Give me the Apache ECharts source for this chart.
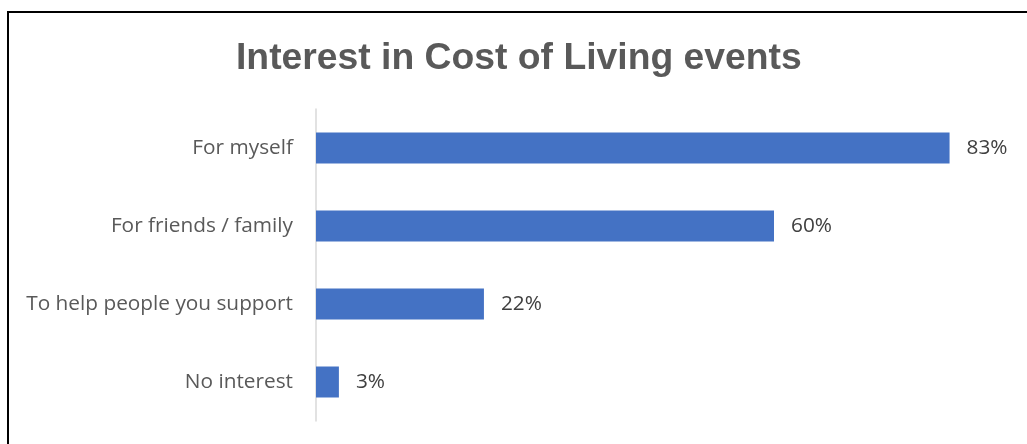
<!DOCTYPE html>
<html>
<head>
<meta charset="utf-8">
<script src="https://cdn.jsdelivr.net/npm/echarts@6/dist/echarts.min.js"></script>
<style>
  html, body { margin: 0; padding: 0; background: #ffffff; }
  #chart { width: 1027px; height: 444px; }
</style>
</head>
<body>
<div id="chart"></div>
<script>
// Survey answers, top to bottom
const categories = ['For myself', 'For friends / family', 'To help people you support', 'No interest'];
// Share of respondents (%)
const shares = [83, 60, 22, 3];

const chart = echarts.init(document.getElementById('chart'), null, { renderer: 'canvas' });

const labelFont = 'Open Sans, Noto Sans, sans-serif';

chart.setOption({
  backgroundColor: '#ffffff',
  animation: false,
  title: {
    text: 'Interest in Cost of Living events',
    left: 231,
    top: 35,
    textStyle: {
      fontFamily: 'Liberation Sans, Arial, sans-serif',
      fontSize: 37.3,
      fontWeight: 'bold',
      color: '#595959'
    }
  },
  graphic: [{
    type: 'rect',
    shape: { x: 8, y: 12, width: 1040, height: 450 },
    style: { fill: 'none', stroke: '#000000', lineWidth: 2 },
    silent: true
  }],
  grid: { left: 316, right: 24, top: 109, bottom: 23 },
  xAxis: {
    type: 'value',
    min: 0,
    max: 90,
    show: false
  },
  yAxis: {
    type: 'category',
    data: categories,
    inverse: true,
    axisLine: { show: true, lineStyle: { color: '#d9d9d9', width: 1.5 } },
    axisTick: { show: false },
    axisLabel: {
      margin: 23,
      fontFamily: labelFont,
      fontSize: 20.8,
      color: '#595959'
    }
  },
  series: [{
    type: 'bar',
    data: shares,
    barWidth: 31,
    itemStyle: { color: '#4472C4' },
    label: {
      show: true,
      position: 'right',
      distance: 17,
      formatter: p => p.value + '%',
      fontFamily: labelFont,
      fontSize: 20.8,
      color: '#404040'
    }
  }]
});
</script>
</body>
</html>
